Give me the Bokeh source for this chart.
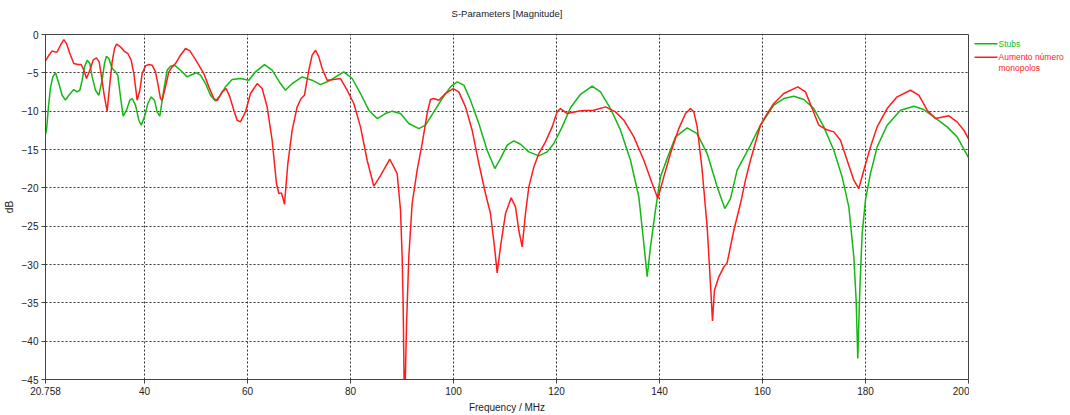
from bokeh.plotting import figure
from bokeh.layouts import row
from bokeh.models import Range1d, FixedTicker, Title
from bokeh.core.properties import value
from bokeh.embed import file_html
from bokeh.resources import INLINE

FONT = "Liberation Sans"

# ---- data ----
stubs_freq = [20.758, 20.95, 21.35, 21.73, 22.2, 22.70, 23.35, 23.99, 24.64, 25.29,
              26.26, 26.91, 27.42, 27.88, 28.33, 28.85, 29.37, 29.82, 30.47, 31.11,
              31.76, 32.21, 32.60, 33.06, 33.70, 34.35, 34.80, 35.32, 35.84, 36.49,
              37.13, 37.59, 38.24, 38.88, 39.34, 39.98, 40.63, 41.28, 41.92, 42.44,
              42.96, 43.61, 44.38, 45.03, 45.81, 46.97, 48.27, 49.24, 50.08, 50.86,
              51.83, 52.80, 53.77, 54.74, 55.71, 57.01, 58.62, 60.24, 61.54, 63.28,
              64.77, 66.39, 67.36, 68.66, 70.60, 72.54, 74.16, 76.10, 78.69, 80.31,
              81.93, 83.54, 85.16, 86.78, 88.08, 89.70, 91.31, 93.26, 94.55, 96.17,
              97.79, 99.41, 100.70, 102.0, 103.29, 104.91, 106.52, 108.02, 109.11, 110.41,
              111.70, 113.00, 114.62, 116.56, 118.18, 119.47, 121.09, 122.71, 124.65, 126.92,
              128.53, 130.48, 132.42, 134.36, 135.98, 136.95, 137.60, 138.24, 139.21, 140.18,
              141.48, 143.10, 145.36, 147.30, 149.25, 151.19, 152.68, 153.78, 155.07, 157.66,
              159.60, 162.19, 164.13, 166.08, 168.02, 169.96, 171.90, 173.84, 175.46, 176.76,
              177.73, 178.18, 178.50, 178.89, 179.35, 179.99, 180.96, 182.26, 184.20, 186.79,
              189.38, 191.32, 193.26, 195.85, 197.79, 200.0]
stubs_db = [-13.0, -12.5, -9.3, -6.9, -5.5, -5.0, -6.40, -7.92, -8.57, -7.92,
            -7.18, -7.48, -7.27, -5.96, -4.22, -3.35, -3.79, -5.53, -7.27, -7.92,
            -5.96, -3.79, -2.83, -3.13, -4.44, -4.87, -5.31, -8.14, -10.66, -9.87,
            -8.57, -8.35, -9.22, -11.18, -11.83, -10.74, -9.00, -8.14, -8.57, -10.09,
            -10.66, -7.70, -4.66, -4.13, -4.00, -4.66, -5.53, -5.22, -5.00, -5.31,
            -6.40, -7.92, -8.66, -7.92, -6.83, -5.87, -5.74, -5.96, -4.87, -3.92,
            -4.66, -6.40, -7.27, -6.40, -5.53, -5.96, -6.53, -5.96, -4.87, -5.74,
            -7.70, -9.87, -10.96, -10.31, -10.00, -10.31, -11.61, -12.27, -11.83, -10.09,
            -8.35, -6.83, -6.18, -6.61, -8.57, -11.61, -15.09, -17.48, -16.18, -14.44,
            -13.87, -14.31, -15.31, -15.83, -15.31, -14.22, -12.05, -9.55, -7.80, -6.74,
            -7.48, -9.66, -12.48, -16.40, -21.18, -27.26, -31.6, -27.7, -22.92, -18.57,
            -16.18, -13.35, -12.18, -12.92, -15.53, -19.87, -22.70, -21.40, -17.70, -14.44,
            -11.83, -9.22, -8.35, -8.05, -8.48, -9.66, -12.05, -15.09, -18.57, -22.48,
            -29.0, -34.66, -42.27, -33.35, -25.96, -21.61, -18.14, -14.66, -11.83, -9.87,
            -9.35, -9.79, -10.74, -12.05, -13.35, -16.05]

mono_freq = [20.758, 20.95, 21.41, 22.05, 22.51, 23.02, 23.67, 24.32, 24.84, 25.48,
             26.26, 27.04, 27.68, 28.20, 28.72, 29.37, 30.01, 30.66, 31.18, 31.63,
             32.21, 32.73, 33.19, 33.70, 34.16, 34.55, 35.32, 35.97, 36.75, 37.39,
             37.91, 38.56, 39.08, 39.53, 40.18, 40.82, 41.47, 42.12, 42.57, 43.09,
             43.41, 44.06, 44.71, 45.36, 46.00, 46.97, 47.94, 48.79, 49.56, 50.53,
             51.50, 52.48, 53.45, 54.09, 55.06, 55.84, 56.55, 57.33, 57.98, 58.62,
             59.59, 60.57, 61.86, 62.83, 63.80, 64.77, 65.61, 66.07, 66.59, 67.17,
             67.82, 68.66, 69.63, 70.40, 71.05, 71.89, 72.54, 73.19, 73.84, 74.48,
             75.45, 76.75, 78.04, 79.34, 80.63, 81.93, 83.22, 84.52, 85.81, 87.62,
             89.05, 89.70, 90.02, 90.21, 90.41, 90.60, 90.86, 91.31, 91.96, 92.93,
             93.90, 94.87, 95.52, 96.17, 97.14, 98.43, 99.92, 101.02, 102.32, 103.61,
             104.91, 106.20, 107.17, 107.95, 108.47, 109.11, 110.09, 111.19, 112.03, 112.67,
             113.32, 113.97, 114.62, 115.59, 116.56, 117.85, 119.15, 120.12, 120.77, 122.06,
             124.65, 127.24, 129.50, 131.45, 133.07, 135.01, 136.95, 138.57, 139.67, 140.83,
             142.13, 143.74, 145.04, 146.01, 146.66, 147.31, 148.28, 149.25, 150.03, 150.28,
             150.67, 151.51, 152.49, 153.13, 154.43, 155.72, 156.69, 157.66, 159.60, 160.90,
             162.19, 164.13, 166.85, 168.34, 169.64, 170.93, 172.23, 173.84, 175.14, 176.43,
             177.73, 178.70, 179.67, 180.96, 182.26, 184.20, 186.14, 188.73, 190.35, 191.97,
             193.59, 196.18, 197.79, 199.09, 200.0]
mono_db = [-3.4, -3.26, -2.70, -2.13, -2.27, -2.27, -1.40, -0.66, -1.18, -2.48,
           -3.79, -3.92, -3.92, -4.66, -5.74, -4.66, -3.35, -3.05, -3.57, -5.53,
           -8.14, -10.00, -6.83, -3.57, -1.83, -1.26, -1.61, -2.13, -2.48, -3.35,
           -5.09, -8.57, -7.27, -5.09, -4.09, -3.92, -4.00, -4.87, -6.40, -8.35,
           -8.57, -6.83, -4.87, -4.22, -3.79, -2.70, -1.83, -2.13, -2.92, -4.00,
           -5.09, -6.83, -8.35, -8.62, -7.48, -7.05, -8.14, -9.87, -11.18, -11.40,
           -10.09, -7.70, -6.40, -7.05, -9.44, -13.79, -19.44, -20.74, -20.66, -22.14,
           -16.83, -12.48, -9.44, -8.35, -7.92, -4.66, -2.70, -2.05, -2.92, -4.44,
           -5.96, -5.87, -5.74, -7.27, -9.00, -12.05, -16.40, -19.79, -18.4, -16.27,
           -18.14, -22.92, -29.0, -35.1, -46.0, -46.0, -38.1, -29.0, -22.05, -17.70,
           -14.22, -10.31, -8.48, -8.35, -8.57, -7.70, -7.05, -7.48, -9.44, -12.48,
           -16.83, -20.74, -23.35, -27.7, -31.09, -27.7, -23.35, -21.31, -22.48, -25.53,
           -27.70, -23.35, -19.87, -17.27, -15.53, -14.0, -12.05, -10.09, -9.66, -10.31,
           -9.96, -9.87, -9.44, -10.09, -11.18, -13.35, -16.40, -19.44, -21.40, -18.57,
           -15.53, -12.27, -10.31, -9.66, -10.09, -12.05, -17.70, -25.09, -34.2, -37.35,
           -33.35, -31.61, -30.31, -29.79, -25.53, -22.05, -19.0, -16.40, -11.83, -10.31,
           -9.0, -7.70, -6.83, -7.48, -9.66, -11.83, -12.35, -12.70, -13.79, -16.40,
           -19.0, -20.09, -17.70, -14.66, -12.05, -9.66, -8.13, -7.27, -7.92, -9.87,
           -10.96, -10.61, -11.40, -12.48, -13.6]

x_ticks = [20.758, 40, 60, 80, 100, 120, 140, 160, 180, 200]
x_tick_labels = ["20.758", "40", "60", "80", "100", "120", "140", "160", "180", "200"]
y_ticks = [0, -5, -10, -15, -20, -25, -30, -35, -40, -45]

series_names = ["Stubs", "Aumento número monopolos"]
GREEN = "#14b814"
RED = "#ff1c1c"

TOTAL_H = 415
MAIN_W = 969
FRAME_TOP, FRAME_BOTTOM = 34, 379
p = figure(width=MAIN_W, height=TOTAL_H, output_backend="svg", toolbar_location=None,
           x_range=Range1d(20.758, 200), y_range=Range1d(-45, 0),
           min_border_left=45, min_border_right=1, min_border_top=FRAME_TOP,
           min_border_bottom=TOTAL_H - FRAME_BOTTOM,
           title="S-Parameters [Magnitude]")
p.title.align = "center"
p.title.vertical_align = "top"
p.title.text_font = FONT
p.title.text_font_size = "9.5px"
p.title.text_font_style = "normal"
p.title.text_color = "#222222"
p.title.standoff = 1
# blank spacer between the title and the frame, pushing the title up
p.add_layout(Title(text=" ", text_font_size="4px", standoff=6), "above")

p.line(stubs_freq, stubs_db, line_color=GREEN, line_width=1.5)
p.line(mono_freq, mono_db, line_color=RED, line_width=1.5)

p.xaxis.ticker = FixedTicker(ticks=x_ticks)
p.xaxis.major_label_overrides = {t: l for t, l in zip(x_ticks, x_tick_labels)}
p.yaxis.ticker = FixedTicker(ticks=y_ticks)
p.xaxis.axis_label = "Frequency / MHz"
p.yaxis.axis_label = "dB"
for ax in (p.xaxis[0], p.yaxis[0]):
    ax.major_label_text_font = FONT
    ax.major_label_text_font_size = "10px"
    ax.major_label_text_color = "#222222"
    ax.axis_label_text_font = FONT
    ax.axis_label_text_font_size = "10px"
    ax.axis_label_text_font_style = "normal"
    ax.axis_label_text_color = "#222222"
    ax.axis_line_color = "#444444"
    ax.major_tick_line_color = "#444444"
    ax.major_tick_out = 4
    ax.major_tick_in = 0
    ax.minor_tick_line_color = None
    ax.major_label_standoff = 3
    ax.axis_label_standoff = 4

p.grid.grid_line_color = "#333333"
p.grid.grid_line_dash = "2 2"
p.grid.grid_line_width = 1
p.outline_line_color = "#444444"
p.outline_line_alpha = 1.0

# legend panel on the right (outside the plot frame, as in the reference);
# its frame is aligned with the main frame, so the y range spans the frame rows
LG_W = 1070 - MAIN_W
lg = figure(width=LG_W, height=TOTAL_H, output_backend="svg", toolbar_location=None,
            x_range=Range1d(0, LG_W), y_range=Range1d(FRAME_BOTTOM, FRAME_TOP),
            x_axis_type=None, y_axis_type=None, min_border=0,
            min_border_top=FRAME_TOP, min_border_bottom=TOTAL_H - FRAME_BOTTOM)
lg.outline_line_color = None
lg.grid.visible = False
leg_y = [43.3, 56.7]
lg.segment(x0=[5, 5], y0=leg_y, x1=[28, 28], y1=leg_y, line_color=[GREEN, RED], line_width=1.5)
lg.text(x=[29], y=[leg_y[0]], text=[series_names[0]], text_color=GREEN,
        text_font=value(FONT), text_font_size="8.5px", text_baseline="middle")
lg.text(x=[29, 29], y=[leg_y[1], leg_y[1] + 10.5], text=["Aumento número", "monopolos"],
        text_color=RED, text_font=value(FONT), text_font_size="8.5px", text_baseline="middle")

layout = row(p, lg)
open("out.html", "w").write(file_html(layout, INLINE))
